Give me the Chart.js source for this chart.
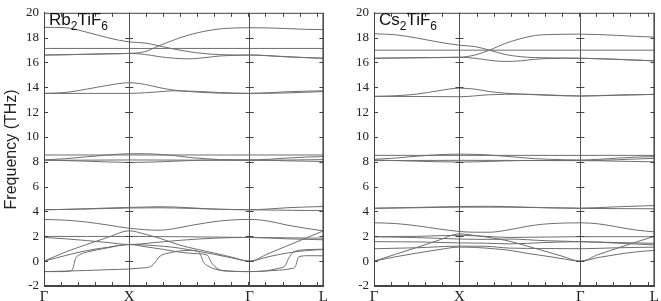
<!DOCTYPE html>
<html>
<head>
<meta charset="utf-8">
<script src="https://cdn.jsdelivr.net/npm/chart.js@4"></script>
<style>
  body { margin: 0; background: #fff; }
  #wrap { position: relative; width: 661px; height: 301px; }
  canvas { position: absolute; top: 0; }
</style>
</head>
<body>
<div id="wrap">
  <canvas id="rbChart" width="330" height="301" style="left:0"></canvas>
  <canvas id="csChart" width="331" height="301" style="left:330px"></canvas>
</div>
<script>
// high-symmetry path (distance along Γ-X-K-Γ-L, K unlabelled)
const kTicks = [0, 1, 2.414, 3.28];
const kLabels = ["Γ", "X", "Γ", "L"];
const freqMin = -2, freqMax = 20, freqStep = 2;

// Rb2TiF6 branches, [k, THz]
const rbHigh = [
  [[0,18.83],[0.25,18.8],[0.5,18.44],[0.75,17.99],[1,17.65],[1.18,17.57],[1.35,17.34],[1.53,17.07],[1.71,16.86],[1.89,16.71],[2.06,16.63],[2.24,16.6],[2.414,16.6],[2.63,16.55],[2.85,16.47],[3.07,16.39],[3.28,16.34]],
  [[0,16.6],[0.25,16.62],[0.5,16.66],[0.75,16.69],[1,16.73],[1.18,16.86],[1.35,17.34],[1.53,17.83],[1.71,18.23],[1.89,18.52],[2.06,18.7],[2.24,18.78],[2.414,18.8],[2.63,18.78],[2.85,18.73],[3.07,18.67],[3.28,18.65]],
  [[0,16.6],[0.5,16.66],[1,16.73],[1.18,16.65],[1.35,16.47],[1.53,16.34],[1.71,16.29],[1.89,16.39],[2.06,16.52],[2.24,16.57],[2.414,16.6],[2.85,16.45],[3.28,16.34]],
  [[0,17.13],[1,17.13],[2.414,17.13],[3.28,17.13]]
];
const rbMid = [
  [[0,13.51],[0.25,13.58],[0.5,13.85],[0.75,14.16],[1,14.37],[1.18,14.24],[1.35,13.98],[1.53,13.77],[1.71,13.66],[1.89,13.58],[2.06,13.53],[2.414,13.51],[2.63,13.56],[2.85,13.64],[3.07,13.69],[3.28,13.72]],
  [[0,13.51],[0.5,13.51],[1,13.51],[1.18,13.56],[1.35,13.64],[1.53,13.72],[1.71,13.69],[1.89,13.64],[2.06,13.58],[2.414,13.51],[2.85,13.55],[3.28,13.66]]
];
const rbEight = [
  [[0,8.55],[1,8.55],[2.414,8.55],[3.28,8.55]],
  [[0,8.15],[0.25,8.25],[0.5,8.4],[0.75,8.55],[1,8.65],[1.18,8.65],[1.35,8.6],[1.53,8.5],[1.71,8.35],[1.89,8.25],[2.06,8.18],[2.414,8.15],[2.63,8.2],[2.85,8.3],[3.07,8.38],[3.28,8.42]],
  [[0,8.15],[0.5,8.05],[1,7.95],[1.35,8.0],[1.71,8.1],[2.06,8.15],[2.414,8.15],[2.85,8.08],[3.28,8.03]],
  [[0,8.12],[1,8.15],[2.414,8.12],[3.28,8.18]]
];
const rbFour = [
  [[0,4.14],[0.25,4.17],[0.5,4.22],[0.75,4.28],[1,4.33],[1.18,4.36],[1.35,4.38],[1.53,4.36],[1.71,4.3],[1.89,4.23],[2.06,4.18],[2.414,4.14],[2.63,4.2],[2.85,4.3],[3.07,4.36],[3.28,4.4]],
  [[0,4.14],[0.5,4.2],[1,4.28],[1.35,4.3],[1.71,4.25],[2.06,4.18],[2.414,4.14],[2.63,4.12],[2.85,4.1],[3.07,4.08],[3.28,4.07]]
];
const rbLow = [
  [[0,3.36],[0.25,3.3],[0.5,3.15],[0.75,2.91],[1,2.65],[1.18,2.54],[1.35,2.49],[1.53,2.62],[1.71,2.86],[1.89,3.07],[2.06,3.23],[2.24,3.33],[2.414,3.36],[2.63,3.23],[2.85,2.91],[3.07,2.65],[3.28,2.44]],
  [[0,0],[0.25,0.73],[0.5,1.34],[0.75,1.92],[1,2.44],[1.2,2.15],[1.4,1.75],[1.59,1.3],[1.8,0.95],[2.0,0.65],[2.2,0.33],[2.414,0],[2.63,0.6],[2.85,1.22],[3.07,1.85],[3.28,2.44]],
  [[0,1.99],[0.5,1.99],[1,1.99],[1.7,1.96],[2.414,1.91],[2.85,1.88],[3.28,1.85]],
  [[0,1.91],[0.25,1.8],[0.5,1.66],[0.75,1.5],[1,1.34],[1.3,1.5],[1.6,1.68],[2.0,1.85],[2.414,1.91],[2.85,1.8],[3.28,1.72]],
  [[0,0],[0.25,0.45],[0.5,0.85],[0.75,1.12],[1,1.34],[1.2,1.3],[1.4,1.2],[1.59,1.05],[1.8,0.8],[2.0,0.55],[2.2,0.27],[2.414,0],[2.63,0.35],[2.85,0.65],[3.07,0.85],[3.28,0.94]],
  [[0,-0.84],[0.25,-0.8],[0.5,-0.75],[0.75,-0.69],[1,-0.63],[1.15,-0.55],[1.25,-0.44],[1.31,-0.05],[1.35,0.34],[1.47,0.66],[1.7,0.87],[1.8,0.82],[1.84,0.47],[1.87,-0.05],[1.92,-0.37],[2.05,-0.71],[2.25,-0.82],[2.414,-0.84],[2.6,-0.78],[2.75,-0.58],[2.83,-0.37],[2.87,0.21],[2.93,0.73],[3.07,0.92],[3.28,0.96]],
  [[0,-0.84],[0.2,-0.84],[0.3,-0.8],[0.34,-0.58],[0.37,0.21],[0.42,0.52],[0.54,0.79],[0.73,1.05],[1,1.34],[1.2,1.15],[1.4,0.95],[1.59,0.73],[1.8,0.6],[1.92,0.47],[1.96,-0.05],[2.02,-0.52],[2.1,-0.76],[2.414,-0.84],[2.7,-0.75],[2.9,-0.6],[2.95,-0.44],[2.99,0.34],[3.1,0.44],[3.28,0.43]]
];

// Cs2TiF6 branches, [k, THz]
const csHigh = [
  [[0,18.31],[0.25,18.23],[0.5,17.97],[0.75,17.65],[1,17.39],[1.18,17.28],[1.35,16.99],[1.53,16.65],[1.71,16.47],[1.89,16.39],[2.06,16.37],[2.414,16.34],[2.85,16.25],[3.28,16.13]],
  [[0,16.34],[0.5,16.38],[1,16.42],[1.18,16.6],[1.35,16.99],[1.53,17.52],[1.71,17.91],[1.89,18.18],[2.06,18.25],[2.414,18.28],[2.63,18.25],[2.85,18.18],[3.07,18.1],[3.28,18.04]],
  [[0,16.34],[0.5,16.38],[1,16.42],[1.18,16.34],[1.35,16.18],[1.53,16.08],[1.71,16.13],[1.89,16.26],[2.06,16.32],[2.414,16.34],[2.85,16.25],[3.28,16.13]],
  [[0,16.99],[1,16.99],[2.414,16.99],[3.28,16.99]]
];
const csMid = [
  [[0,13.27],[0.25,13.32],[0.5,13.45],[0.75,13.72],[1,13.93],[1.18,13.85],[1.35,13.66],[1.53,13.53],[1.71,13.45],[1.89,13.4],[2.06,13.35],[2.414,13.3],[2.85,13.38],[3.28,13.43]],
  [[0,13.27],[0.5,13.26],[1,13.24],[1.35,13.4],[1.71,13.45],[2.06,13.38],[2.414,13.3],[2.85,13.36],[3.28,13.43]]
];
const csEight = [
  [[0,8.52],[1,8.52],[2.414,8.52],[3.28,8.52]],
  [[0,8.2],[0.25,8.3],[0.5,8.45],[0.75,8.57],[1,8.62],[1.18,8.6],[1.35,8.55],[1.53,8.45],[1.71,8.35],[1.89,8.25],[2.06,8.2],[2.414,8.15],[2.63,8.2],[2.85,8.3],[3.07,8.38],[3.28,8.42]],
  [[0,8.15],[0.5,8.05],[1,7.98],[1.35,8.03],[1.71,8.1],[2.414,8.1],[2.85,8.05],[3.28,8.0]],
  [[0,8.1],[1,8.12],[2.414,8.1],[3.28,8.28]]
];
const csFour = [
  [[0,4.27],[0.5,4.33],[1,4.4],[1.35,4.42],[1.71,4.36],[2.06,4.3],[2.414,4.27],[2.85,4.38],[3.28,4.48]],
  [[0,4.25],[0.5,4.3],[1,4.35],[1.5,4.35],[2.0,4.3],[2.414,4.25],[2.85,4.23],[3.28,4.22]]
];
const csLow = [
  [[0,3.09],[0.25,3.03],[0.5,2.85],[0.75,2.6],[1,2.39],[1.18,2.33],[1.35,2.33],[1.53,2.47],[1.71,2.7],[1.89,2.91],[2.06,3.02],[2.24,3.07],[2.414,3.09],[2.63,3.0],[2.85,2.75],[3.07,2.5],[3.28,2.36]],
  [[0,0],[0.25,0.55],[0.5,1.1],[0.75,1.67],[1,2.2],[1.2,2.05],[1.4,1.85],[1.59,1.6],[1.8,1.2],[2.0,0.8],[2.2,0.4],[2.414,0],[2.63,0.55],[2.85,1.05],[3.07,1.55],[3.28,2.0]],
  [[0,1.97],[0.5,2.0],[1,2.08],[1.3,2.0],[1.59,1.91],[2.0,1.94],[2.414,1.97],[2.85,1.97],[3.28,1.97]],
  [[0,1.97],[0.5,1.9],[1,1.78],[1.3,1.75],[1.59,1.78],[2.0,1.65],[2.414,1.57],[2.85,1.5],[3.28,1.44]],
  [[0,1.57],[0.5,1.55],[1,1.47],[1.3,1.45],[1.59,1.39],[2.0,1.5],[2.414,1.57],[2.85,1.45],[3.28,1.31]],
  [[0,1.0],[0.5,1.08],[1,1.21],[1.3,1.2],[1.59,1.05],[2.0,1.02],[2.414,1.0],[2.85,1.08],[3.28,1.13]],
  [[0,0],[0.25,0.35],[0.5,0.65],[0.75,0.92],[1,1.13],[1.2,1.1],[1.4,1.0],[1.59,0.87],[1.8,0.62],[2.0,0.42],[2.2,0.2],[2.414,0],[2.63,0.3],[2.85,0.55],[3.07,0.75],[3.28,0.87]]
];

const lineColor = "#6e6e6e";
const frameColor = "#444";

function toDatasets(groups) {
  const out = [];
  groups.forEach(g => g.forEach(band => {
    out.push({
      data: band.map(p => ({ x: p[0], y: p[1] })),
      showLine: true,
      borderColor: lineColor,
      borderWidth: 1,
      pointRadius: 0,
      fill: false,
      cubicInterpolationMode: "monotone"
    });
  }));
  return out;
}

// frame, inward ticks, formula label
function framePlugin(formula) {
  return {
    id: "frame",
    afterDraw(chart) {
      const ctx = chart.ctx, a = chart.chartArea;
      const xs = chart.scales.x, ys = chart.scales.y;
      ctx.save();
      ctx.strokeStyle = frameColor;
      ctx.lineWidth = 1;
      ctx.strokeRect(a.left + 0.5, a.top + 0.5, a.right - a.left - 1, a.bottom - a.top - 1);
      ctx.beginPath();
      for (let k = 0.2; k < kTicks[kTicks.length - 1]; k += 0.2) {
        const px = Math.round(xs.getPixelForValue(k)) + 0.5;
        ctx.moveTo(px, a.bottom); ctx.lineTo(px, a.bottom - 4);
        ctx.moveTo(px, a.top); ctx.lineTo(px, a.top + 4);
      }
      for (let f = freqMin + freqStep; f < freqMax; f += freqStep) {
        const py = Math.round(ys.getPixelForValue(f)) + 0.5;
        ctx.moveTo(a.left, py); ctx.lineTo(a.left + 4, py);
        ctx.moveTo(a.right, py); ctx.lineTo(a.right - 4, py);
        kTicks.slice(1, -1).forEach(k => {
          const px = xs.getPixelForValue(k);
          ctx.moveTo(px - 4, py); ctx.lineTo(px + 4, py);
        });
      }
      ctx.stroke();

      // chemical formula with subscripts
      ctx.fillStyle = "#111";
      ctx.textBaseline = "alphabetic";
      let x = a.left + 5;
      formula.forEach(part => {
        if (part.sub) {
          ctx.font = '12px "Liberation Sans", Arial, sans-serif';
          ctx.fillText(part.t, x, 30);
        } else {
          ctx.font = '17px "Liberation Sans", Arial, sans-serif';
          ctx.fillText(part.t, x, 25);
        }
        x += ctx.measureText(part.t).width;
      });
      ctx.restore();
    }
  };
}

function makeChart(id, groups, formula, withTitle, rightPad) {
  return new Chart(document.getElementById(id), {
    type: "scatter",
    data: { datasets: toDatasets(groups) },
    options: {
      responsive: false,
      animation: false,
      layout: { padding: { top: 7, right: rightPad, bottom: 0, left: 0 } },
      plugins: { legend: { display: false }, tooltip: { enabled: false } },
      scales: {
        x: {
          type: "linear",
          min: kTicks[0],
          max: kTicks[kTicks.length - 1],
          afterBuildTicks: s => { s.ticks = kTicks.map(v => ({ value: v })); },
          afterFit: s => { s.height = 15; },
          ticks: {
            autoSkip: false,
            maxRotation: 0,
            padding: 2,
            color: "#222",
            font: { family: '"Liberation Serif", "Times New Roman", serif', size: 15 },
            callback: (v, i) => kLabels[i]
          },
          grid: { color: "#555", lineWidth: 1, drawTicks: false },
          border: { display: true, color: frameColor }
        },
        y: {
          min: freqMin,
          max: freqMax,
          afterFit: s => { s.width = 44; },
          ticks: {
            stepSize: freqStep,
            padding: 5,
            color: "#222",
            font: { family: '"Liberation Serif", "Times New Roman", serif', size: 13 }
          },
          grid: { display: false, drawTicks: false },
          border: { display: true, color: frameColor },
          title: {
            display: withTitle,
            text: "Frequency (THz)",
            color: "#222",
            padding: { top: 2, bottom: 0 },
            font: { family: '"Liberation Sans", Arial, sans-serif', size: 16 }
          }
        }
      }
    },
    plugins: [framePlugin(formula)]
  });
}

makeChart("rbChart", [rbHigh, rbMid, rbEight, rbFour, rbLow],
  [{ t: "Rb" }, { t: "2", sub: true }, { t: "TiF" }, { t: "6", sub: true }], true, 5);
makeChart("csChart", [csHigh, csMid, csEight, csFour, csLow],
  [{ t: "Cs" }, { t: "2", sub: true }, { t: "TiF" }, { t: "6", sub: true }], false, 6);
</script>
</body>
</html>
